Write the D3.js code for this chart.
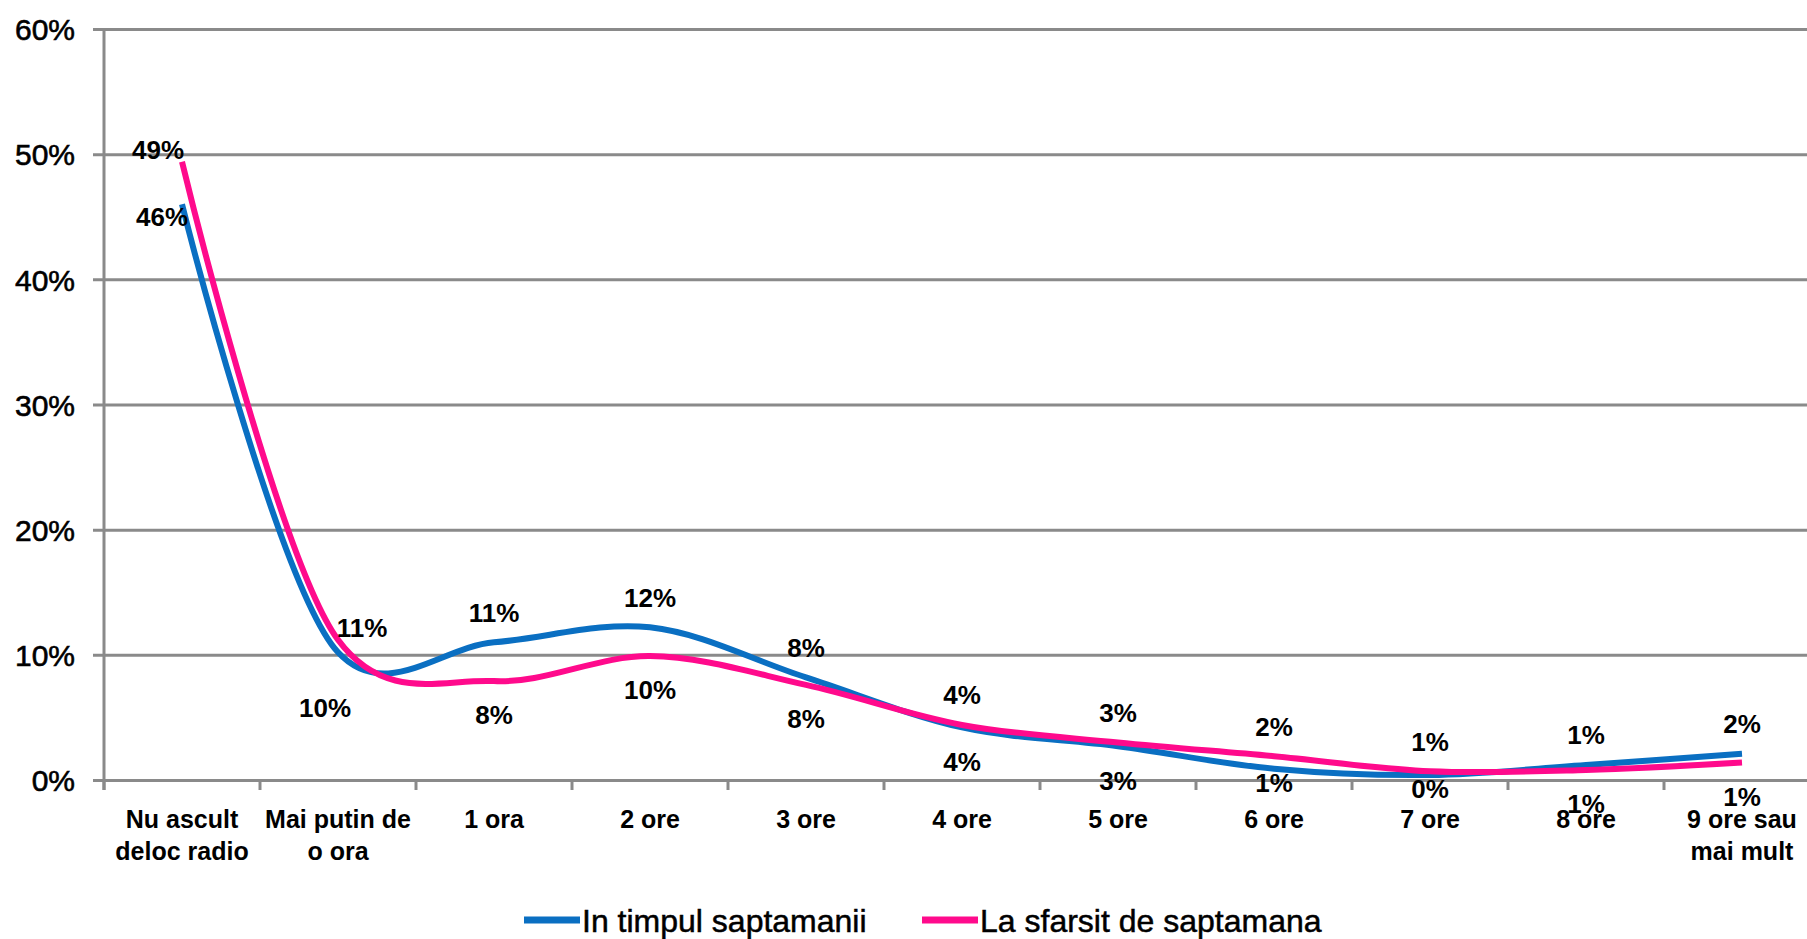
<!DOCTYPE html>
<html>
<head>
<meta charset="utf-8">
<script src="https://cdn.jsdelivr.net/npm/d3@7"></script>
<style>
  html, body { margin: 0; padding: 0; background: #fff; }
  svg { display: block; }
  text { font-family: "Liberation Sans", Arial, sans-serif; fill: #000; }
</style>
</head>
<body>
<svg id="chart" width="1807" height="939"></svg>
<script>
// ---- data ----
const categories = [
  "Nu ascult\ndeloc radio", "Mai putin de\no ora", "1 ora", "2 ore", "3 ore",
  "4 ore", "5 ore", "6 ore", "7 ore", "8 ore", "9 ore sau\nmai mult"
];
const seriesNames = ["In timpul saptamanii", "La sfarsit de saptamana"];
const weekdayValues = [46.0, 10.2, 11.0, 12.2, 8.2, 4.2, 2.7, 0.9, 0.4, 1.2, 2.1];
const weekendValues = [49.4, 11.2, 7.9, 9.9, 7.6, 4.4, 3.0, 1.9, 0.7, 0.8, 1.4];
const yTicks = [0, 10, 20, 30, 40, 50, 60];
const seriesColors = ["#0a6fc2", "#ff0a8c"];

// ---- layout ----
const svg = d3.select("#chart");
const W = 1807, H = 939;
svg.append("rect").attr("width", W).attr("height", H).attr("fill", "#fff");

const left = 104, bandW = 156;
const right = left + bandW * categories.length;
const x = d3.scaleBand().domain(categories).range([left, right]).padding(0);
const y = d3.scaleLinear().domain([0, 60]).range([780, 29]);
const gridColor = "#8a8a8a";

// y axis + gridlines
const yAxis = d3.axisLeft(y)
  .tickValues(yTicks)
  .tickFormat(d => d + "%")
  .tickSize(-(right - left))
  .tickSizeOuter(0);
const gy = svg.append("g").attr("transform", `translate(${left},0)`).call(yAxis);
gy.select(".domain").remove();
gy.selectAll(".tick line")
  .attr("x1", -11)
  .attr("stroke", gridColor)
  .attr("stroke-width", 3);
gy.selectAll(".tick text")
  .attr("x", -29)
  .attr("dy", "0.36em")
  .attr("text-anchor", "end")
  .style("font-size", "30px")
  .style("font-family", "'Liberation Sans', Arial, sans-serif")
  .attr("fill", "#000")
  .attr("stroke", "#000")
  .attr("stroke-width", 0.6);

// vertical axis line
svg.append("line")
  .attr("x1", left).attr("x2", left)
  .attr("y1", y(60)).attr("y2", y(0) + 10)
  .attr("stroke", gridColor).attr("stroke-width", 3);

// x axis category boundary ticks
const bounds = categories.map(c => x(c)).concat([x.range()[1]]);
svg.append("g").selectAll("line").data(bounds).join("line")
  .attr("x1", d => d).attr("x2", d => d)
  .attr("y1", y(0)).attr("y2", y(0) + 10)
  .attr("stroke", gridColor).attr("stroke-width", 3);

// x axis labels
const xAxis = d3.axisBottom(x).tickSize(0).tickPadding(0);
const gx = svg.append("g").attr("transform", `translate(0,${y(0)})`).call(xAxis);
gx.select(".domain").remove();
gx.selectAll(".tick text").each(function(d) {
  const t = d3.select(this);
  t.text(null).attr("y", 0).attr("dy", null)
    .style("font-size", "25px").style("font-weight", "bold")
    .style("font-family", "'Liberation Sans', Arial, sans-serif")
    .attr("fill", "#000");
  d.split("\n").forEach((line, i) => {
    t.append("tspan").attr("x", 0).attr("y", 48 + i * 32).text(line);
  });
});

// lines
const cx = c => x(c) + x.bandwidth() / 2;
const series = [weekdayValues, weekendValues];
const line = d3.line()
  .x((d, i) => cx(categories[i]))
  .y(d => y(d))
  .curve(d3.curveCatmullRom.alpha(0.2));

series.forEach((vals, s) => {
  svg.append("path")
    .datum(vals)
    .attr("d", line)
    .attr("fill", "none")
    .attr("stroke", seriesColors[s])
    .attr("stroke-width", 6)
    .attr("stroke-linejoin", "round");
});

// data labels: higher value above, lower value below
const labelG = svg.append("g")
  .style("font-size", "26px").style("font-weight", "bold");
categories.forEach((c, i) => {
  const vals = [weekdayValues[i], weekendValues[i]];
  const hi = vals[0] >= vals[1] ? 0 : 1;
  vals.forEach((v, s) => {
    const isHi = s === hi;
    let dx = 0, dy = isHi ? -30 : 34;
    if (i === 0) { dx = isHi ? -24 : -20; dy = isHi ? -12 : 12; }
    else if (i === 1) { dx = isHi ? 24 : -13; dy = isHi ? -12 : 55; }
    else if (!isHi && (i === 7 || i === 8)) { dy = 14; }
    labelG.append("text")
      .attr("x", cx(c) + dx)
      .attr("y", y(v) + dy)
      .attr("dy", "0.36em")
      .attr("text-anchor", "middle")
      .text(Math.round(v) + "%");
  });
});

// legend
const legendItems = [
  { name: seriesNames[0], color: seriesColors[0], x0: 524 },
  { name: seriesNames[1], color: seriesColors[1], x0: 922 }
];
const lg = svg.append("g");
legendItems.forEach(it => {
  lg.append("line")
    .attr("x1", it.x0).attr("x2", it.x0 + 56)
    .attr("y1", 920).attr("y2", 920)
    .attr("stroke", it.color).attr("stroke-width", 7);
  lg.append("text")
    .attr("x", it.x0 + 58).attr("y", 920).attr("dy", "0.36em")
    .style("font-size", "32px")
    .attr("stroke", "#000")
    .attr("stroke-width", 0.5)
    .text(it.name);
});
</script>
</body>
</html>
